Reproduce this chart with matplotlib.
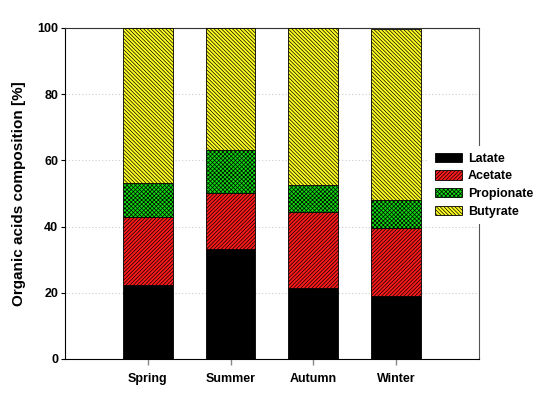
import matplotlib
matplotlib.use("Agg")
import matplotlib.pyplot as plt
import numpy as np

categories = ["Spring", "Summer", "Autumn", "Winter"]
latate = [22.3, 33.2, 21.4, 19.0]
acetate = [20.5, 16.8, 23.1, 20.7]
propionate = [10.5, 13.1, 7.9, 8.3]
butyrate = [46.7, 36.9, 47.6, 51.8]
series_names = ["Latate", "Acetate", "Propionate", "Butyrate"]
colors = ["#000000", "#ff1a1a", "#11dd11", "#ffff22"]
hatches = [None, "/" * 9, "x" * 8, "\\" * 9]

plt.rcParams["font.family"] = ["Liberation Sans", "DejaVu Sans"]
plt.rcParams["hatch.linewidth"] = 0.5

fig = plt.figure(figsize=(5.46, 3.98), dpi=100)
ax = fig.add_axes([0.119, 0.098, 0.758, 0.832])

x = np.arange(1, len(categories) + 1)
bottom = np.zeros(len(categories))
for name, vals, c, h in zip(series_names, [latate, acetate, propionate, butyrate], colors, hatches):
    ax.bar(x, vals, width=0.6, bottom=bottom, color=c, edgecolor="black",
           linewidth=0.6, hatch=h, label=name, zorder=3)
    bottom += np.array(vals)

ax.set_xlim(0, 5)
ax.set_ylim(0, 100)
ax.set_yticks([0, 20, 40, 60, 80, 100])
ax.set_xticks(x)
ax.set_xticklabels(categories, fontweight="bold", fontsize=9)
for lab in ax.get_yticklabels():
    lab.set_fontweight("bold")
    lab.set_fontsize(9)
ax.tick_params(axis="y", direction="out", length=3, width=0.8, pad=2)
ax.tick_params(axis="x", direction="out", length=4, width=1, color="#888888", pad=6)
ax.yaxis.grid(True, linestyle=(0, (1, 2)), color="#cccccc", linewidth=0.8, zorder=0)
ax.set_axisbelow(True)
for s in ax.spines.values():
    s.set_linewidth(0.8)
ax.spines["right"].set_color("#555555")
ax.spines["top"].set_color("#333333")

ax.set_ylabel("Organic acids composition [%]", fontweight="bold", fontsize=11, labelpad=8)

leg = ax.legend(loc="center left", bbox_to_anchor=(0.865, 0.525), frameon=True,
                fontsize=9, handlelength=2.1, handleheight=0.75, labelspacing=0.45,
                handletextpad=0.5, borderpad=0.5, fancybox=False)
leg.get_frame().set_edgecolor("none")
leg.get_frame().set_facecolor("white")
leg.get_frame().set_alpha(1)
for t in leg.get_texts():
    t.set_fontweight("bold")

fig.savefig("out.png", dpi=100)
